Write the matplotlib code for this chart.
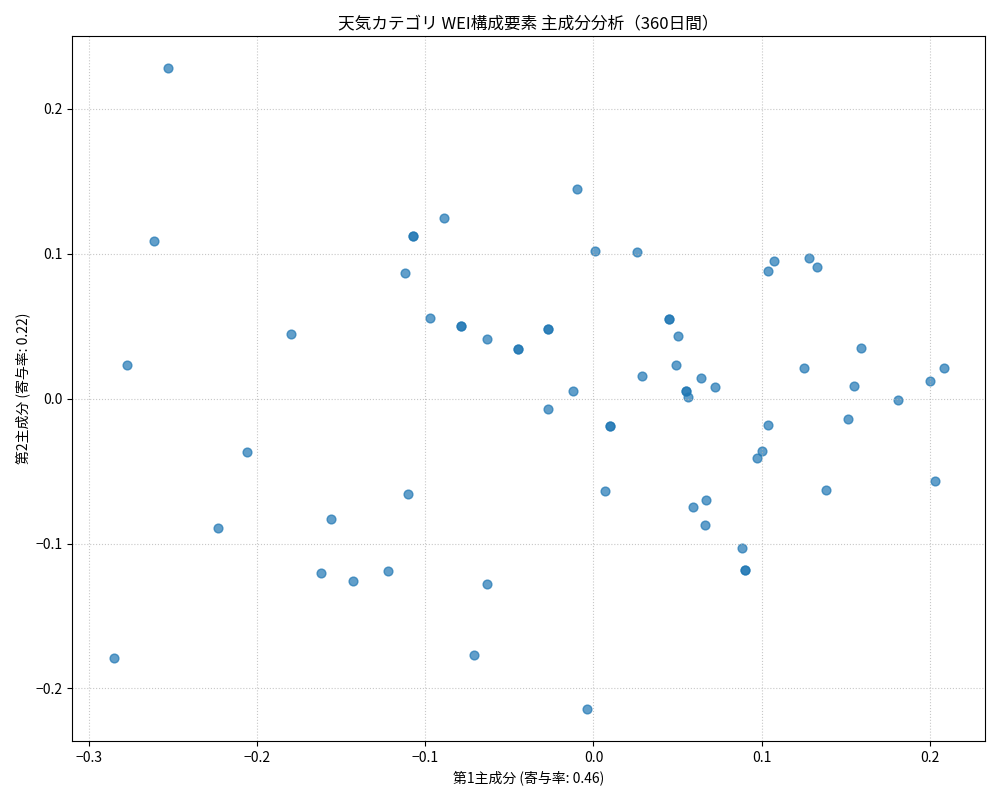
import matplotlib
matplotlib.use("Agg")
import matplotlib.pyplot as plt

plt.rcParams['font.family'] = ['Noto Sans CJK JP', 'DejaVu Sans']

# principal component scores (duplicates appear darker)
pc1 = [-0.253, -0.261, -0.277, -0.285, -0.180, -0.206, -0.223, -0.162, -0.156, -0.143,
       -0.122, -0.110, -0.112, -0.107, -0.107, -0.089, -0.097, -0.079, -0.079, -0.063,
       -0.045, -0.045, -0.027, -0.027, -0.027, -0.012, -0.010, 0.001, -0.063, -0.071,
       -0.004, 0.007, 0.010, 0.010, 0.026, 0.029, 0.045, 0.045, 0.050, 0.049,
       0.055, 0.055, 0.056, 0.064, 0.072, 0.059, 0.067, 0.066, 0.088, 0.090,
       0.090, 0.097, 0.100, 0.104, 0.104, 0.107, 0.128, 0.133, 0.125, 0.138,
       0.151, 0.155, 0.159, 0.181, 0.200, 0.208, 0.203]
pc2 = [0.228, 0.109, 0.023, -0.179, 0.045, -0.037, -0.089, -0.120, -0.083, -0.126,
       -0.119, -0.066, 0.087, 0.112, 0.112, 0.125, 0.056, 0.050, 0.050, 0.041,
       0.034, 0.034, 0.048, 0.048, -0.007, 0.005, 0.145, 0.102, -0.128, -0.177,
       -0.214, -0.064, -0.019, -0.019, 0.101, 0.016, 0.055, 0.055, 0.043, 0.023,
       0.005, 0.005, 0.001, 0.014, 0.008, -0.075, -0.070, -0.087, -0.103, -0.118,
       -0.118, -0.041, -0.036, -0.018, 0.088, 0.095, 0.097, 0.091, 0.021, -0.063,
       -0.014, 0.009, 0.035, -0.001, 0.012, 0.021, -0.057]

fig, ax = plt.subplots(figsize=(10, 8), dpi=100)
ax.scatter(pc1, pc2, color='#1f77b4', alpha=0.7, s=40)
ax.set_title('天気カテゴリ WEI構成要素 主成分分析（360日間）')
ax.set_xlabel('第1主成分 (寄与率: 0.46)')
ax.set_ylabel('第2主成分 (寄与率: 0.22)')
ax.grid(True, linestyle=':', alpha=0.7)
plt.tight_layout()
plt.savefig('out.png')
